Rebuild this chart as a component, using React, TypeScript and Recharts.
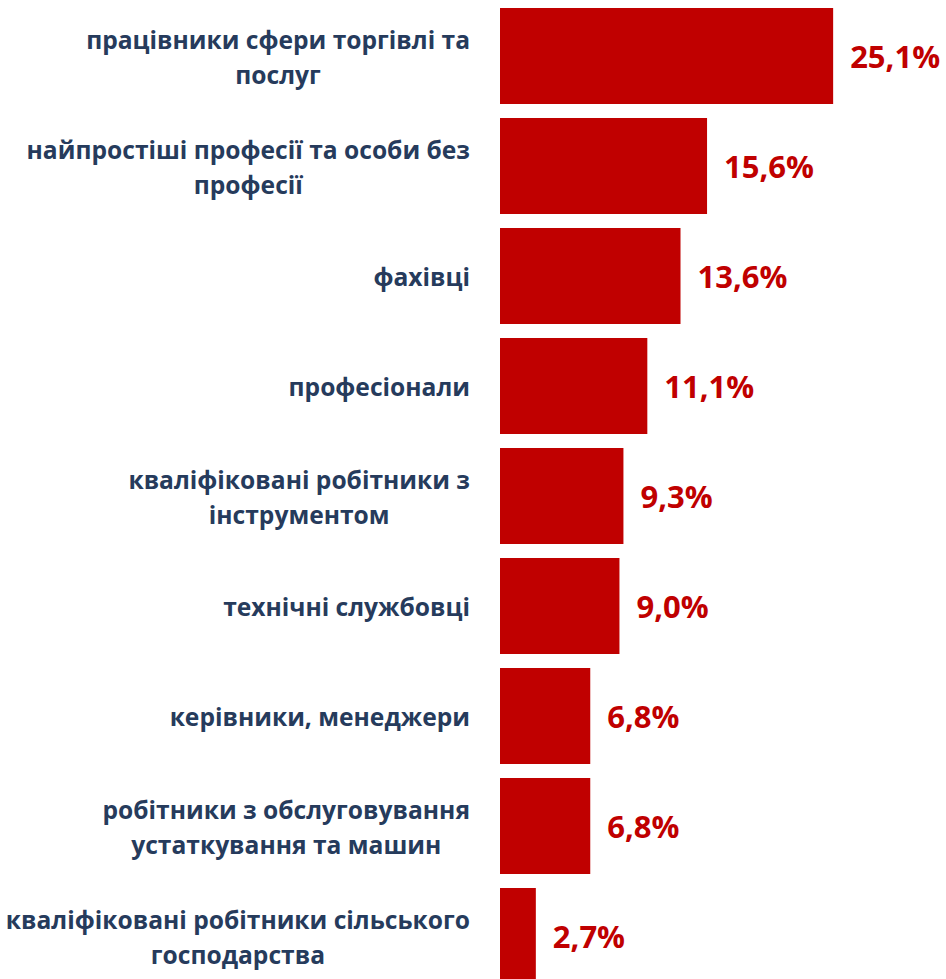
import React from 'react';
import { BarChart, Bar, XAxis, YAxis, LabelList } from 'recharts';

const categories: string[] = [
  'працівники сфери торгівлі та\nпослуг',
  'найпростіші професії та особи без\nпрофесії',
  'фахівці',
  'професіонали',
  'кваліфіковані робітники з\nінструментом',
  'технічні службовці',
  'керівники, менеджери',
  'робітники з обслуговування\nустаткування та машин',
  'кваліфіковані робітники сільського\nгосподарства',
];
const values: number[] = [25.1, 15.6, 13.6, 11.1, 9.3, 9.0, 6.8, 6.8, 2.7];

const data = categories.map((name, i) => ({ name, value: values[i] }));

const FONT_FAMILY = '"Open Sans", "Noto Sans", sans-serif';
const LABEL_SIZE = 24.6;
const LABEL_COLOR = '#263B5C';
const BAR_COLOR = '#C00000';

let ctx: CanvasRenderingContext2D | null = null;
function measure(text: string): number {
  if (!ctx) {
    const c = document.createElement('canvas');
    ctx = c.getContext('2d');
  }
  if (!ctx) return text.length * LABEL_SIZE * 0.55;
  ctx.font = `700 ${LABEL_SIZE}px ${FONT_FAMILY}`;
  return ctx.measureText(text).width;
}

const CategoryTick = (props: any) => {
  const { x, y, payload } = props;
  const lines: string[] = String(payload.value).split('\n');
  const w = Math.max(...lines.map(measure));
  const cx = x - w / 2;
  const lh = 35;
  const start = y - ((lines.length - 1) * lh) / 2;
  return (
    <text
      x={cx}
      y={start}
      textAnchor="middle"
      dominantBaseline="central"
      fill={LABEL_COLOR}
      fontFamily={FONT_FAMILY}
      fontWeight={700}
      fontSize={LABEL_SIZE}
    >
      {lines.map((l, i) => (
        <tspan key={i} x={cx} y={start + i * lh} dominantBaseline="central">
          {l}
        </tspan>
      ))}
    </text>
  );
};

const ValueLabel = (props: any) => {
  const { x, y, width, height, value } = props;
  const txt = Number(value).toFixed(1).replace('.', ',') + '%';
  return (
    <text
      x={Number(x) + Number(width) + 17}
      y={Number(y) + Number(height) / 2}
      dominantBaseline="central"
      textAnchor="start"
      fill={BAR_COLOR}
      fontFamily={FONT_FAMILY}
      fontWeight={700}
      fontSize={31}
    >
      {txt}
    </text>
  );
};

export default function App() {
  return (
    <div style={{ width: 946, height: 979, overflow: 'hidden', background: '#fff' }}>
      <style>{`body{margin:0;overflow:hidden;}`}</style>
      <BarChart
        width={946}
        height={979}
        data={data}
        layout="vertical"
        margin={{ top: 1, right: 8, bottom: -12, left: 0 }}
      >
        <XAxis type="number" domain={[0, 33]} hide />
        <YAxis
          type="category"
          dataKey="name"
          width={500}
          axisLine={false}
          tickLine={false}
          tickSize={0}
          tickMargin={30}
          interval={0}
          tick={<CategoryTick />}
        />
        <Bar dataKey="value" fill={BAR_COLOR} barSize={96} isAnimationActive={false}>
          <LabelList dataKey="value" content={<ValueLabel />} />
        </Bar>
      </BarChart>
    </div>
  );
}
